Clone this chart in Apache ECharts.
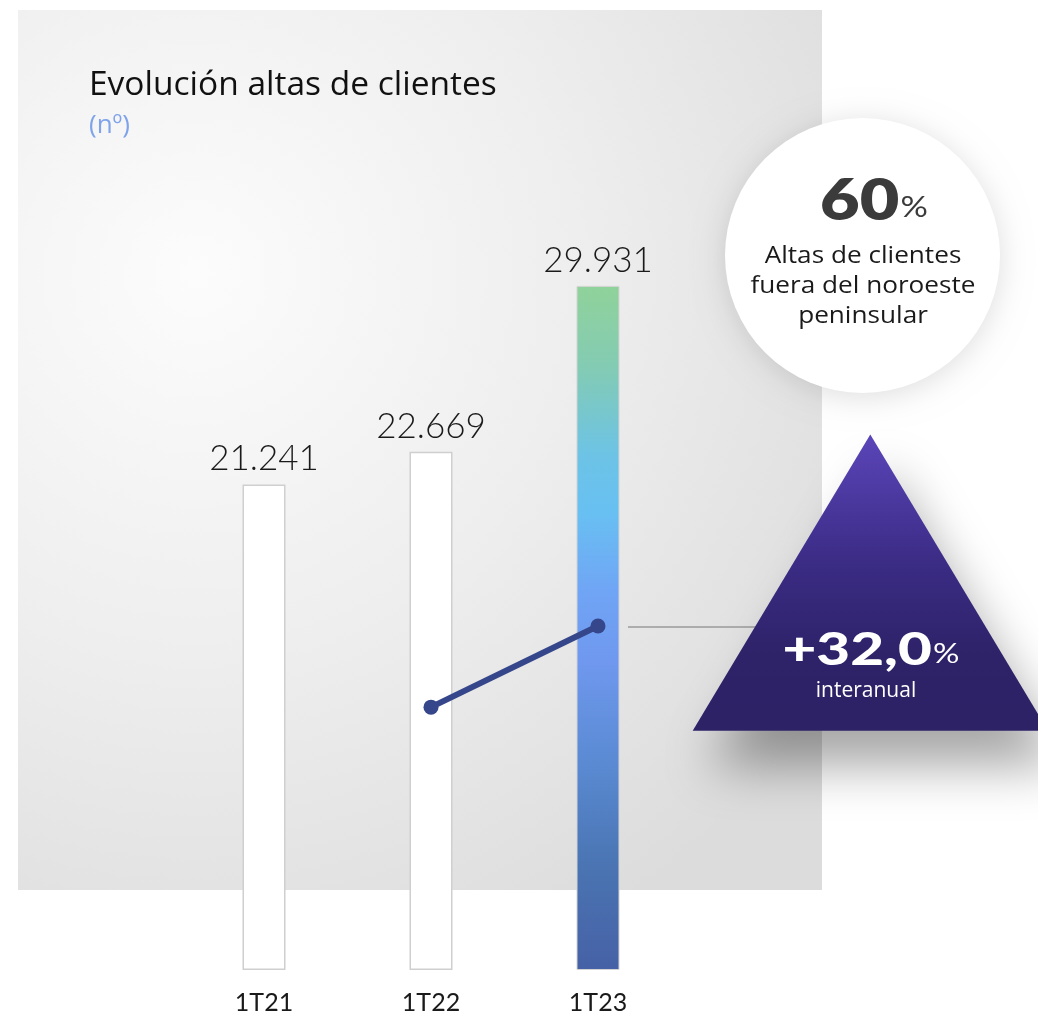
<!DOCTYPE html>
<html>
<head>
<meta charset="utf-8">
<title>Evolución altas de clientes</title>
<script src="https://cdn.jsdelivr.net/npm/echarts@6/dist/echarts.min.js"></script>
<style>
  html, body { margin: 0; padding: 0; background: #ffffff; }
  #chart { width: 1038px; height: 1015px; }
</style>
</head>
<body>
<div id="chart"></div>
<script>
// Quarterly new-customer figures
const categories = ['1T21', '1T22', '1T23'];
const altasValues = [21241, 22669, 29931];
// Year-on-year trend marker (1T22 -> 1T23)
const trendValues = [null, 11500, 15050];
// Highlight figures
const shareOutsideNW = '60';
const yoyGrowth = '+32,0';

const FONT = 'Lato, "Noto Sans", sans-serif';
const BODY = '"Open Sans", Lato, sans-serif';

function fmtThousands(v) {
  return String(v).replace(/\B(?=(\d{3})+(?!\d))/g, '.');
}

const plainBar = {
  color: '#ffffff',
  borderColor: '#cfcfcf',
  borderWidth: 1.5
};
const highlightBar = {
  color: {
    type: 'linear', x: 0, y: 0, x2: 0, y2: 1,
    colorStops: [
      { offset: 0.00, color: '#90d29a' },
      { offset: 0.12, color: '#83cbb4' },
      { offset: 0.25, color: '#6cc3e6' },
      { offset: 0.33, color: '#68c0f2' },
      { offset: 0.45, color: '#70a4f5' },
      { offset: 0.55, color: '#6f98ee' },
      { offset: 0.70, color: '#5a8ad2' },
      { offset: 0.85, color: '#4a74b2' },
      { offset: 1.00, color: '#4661a6' }
    ]
  },
  borderColor: '#d4d4d4',
  borderWidth: 1
};

const chart = echarts.init(document.getElementById('chart'), null, { renderer: 'canvas' });

chart.setOption({
  backgroundColor: '#ffffff',
  animation: false,
  grid: { left: 180.5, width: 501, top: 284.3, bottom: 44, containLabel: false },
  xAxis: {
    type: 'category',
    data: categories,
    axisLine: { show: false },
    axisTick: { show: false },
    axisLabel: {
      margin: 20,
      fontFamily: FONT,
      fontSize: 25,
      color: '#1a1a1a'
    }
  },
  yAxis: {
    type: 'value',
    min: 0,
    max: 30000,
    show: false,
    splitLine: { show: false }
  },
  graphic: [
    // panel behind the plot
    {
      type: 'rect', z: -10, silent: true,
      shape: { x: 18, y: 10, width: 804, height: 880 },
      style: {
        fill: {
          type: 'radial', x: 0.22, y: 0.3, r: 0.95,
          colorStops: [
            { offset: 0, color: '#fcfcfc' },
            { offset: 0.5, color: '#eeeeee' },
            { offset: 1, color: '#dcdcdc' }
          ]
        }
      }
    },
    {
      type: 'text', left: 89, top: 68, z: 5,
      style: { text: 'Evolución altas de clientes', font: '400 33.5px ' + BODY, fill: '#111111' }
    },
    {
      type: 'text', left: 89, top: 113, z: 5,
      style: { text: '(nº)', font: '400 26px ' + BODY, fill: '#7ea3ea' }
    },
    // connector to the growth badge
    {
      type: 'line', z: 4, silent: true,
      shape: { x1: 628, y1: 627, x2: 790, y2: 627 },
      style: { stroke: '#9a9a9a', lineWidth: 1.5 }
    },
    // growth badge
    {
      type: 'polygon', z: 6, silent: true,
      shape: { points: [[870.3, 434.5], [692.7, 730.7], [1048, 730.7]] },
      style: {
        fill: {
          type: 'linear', x: 0, y: 0, x2: 0, y2: 1,
          colorStops: [
            { offset: 0, color: '#5b45b9' },
            { offset: 0.45, color: '#3a2b83' },
            { offset: 0.75, color: '#2e2268' },
            { offset: 1, color: '#2d2266' }
          ]
        },
        shadowColor: 'rgba(0,0,0,0.35)',
        shadowBlur: 50,
        shadowOffsetX: 15,
        shadowOffsetY: 35
      }
    },
    {
      type: 'text', z: 7, x: 871, y: 673, scaleX: 1.27, silent: true,
      style: {
        text: '{b|' + yoyGrowth + '}{p|%}',
        align: 'center', verticalAlign: 'bottom',
        rich: {
          b: { font: '900 46px ' + FONT, fill: '#ffffff', lineHeight: 46 },
          p: { font: '400 26px ' + FONT, fill: '#ffffff', lineHeight: 46, padding: [10, 0, 0, 1] }
        }
      }
    },
    {
      type: 'text', z: 7, x: 866, y: 691, silent: true,
      style: { text: 'interanual', font: '400 21px ' + BODY, fill: '#ffffff', align: 'center', verticalAlign: 'middle' }
    },
    // share badge
    {
      type: 'circle', z: 6, silent: true,
      shape: { cx: 862.5, cy: 255.5, r: 137.5 },
      style: {
        fill: '#ffffff',
        shadowColor: 'rgba(0,0,0,0.13)',
        shadowBlur: 30,
        shadowOffsetX: 0,
        shadowOffsetY: 4
      }
    },
    {
      type: 'text', z: 7, x: 874, y: 230, scaleX: 1.22, silent: true,
      style: {
        text: '{b|' + shareOutsideNW + '}{p|%}',
        align: 'center', verticalAlign: 'bottom',
        rich: {
          b: { font: '800 56px ' + FONT, fill: '#3b3b3b', lineHeight: 56 },
          p: { font: '400 28px ' + FONT, fill: '#3b3b3b', lineHeight: 56, padding: [12, 0, 0, 1] }
        }
      }
    },
    {
      type: 'text', z: 7, x: 863, y: 286, scaleX: 1.09, silent: true,
      style: {
        text: 'Altas de clientes\nfuera del noroeste\npeninsular',
        font: '400 24px ' + BODY, fill: '#1a1a1a',
        lineHeight: 30, align: 'center', verticalAlign: 'middle'
      }
    }
  ],
  series: [
    {
      name: 'Altas de clientes',
      type: 'bar',
      barWidth: 43,
      z: 2,
      data: altasValues.map((v, i) => ({
        value: v,
        itemStyle: i === altasValues.length - 1 ? highlightBar : plainBar
      })),
      label: {
        show: true,
        position: 'top',
        distance: 8,
        fontFamily: FONT,
        fontWeight: 300,
        fontSize: 35,
        color: '#1a1a1a',
        formatter: p => fmtThousands(p.value)
      }
    },
    {
      name: 'Tendencia',
      type: 'line',
      z: 3,
      data: trendValues,
      symbol: 'circle',
      symbolSize: 15,
      connectNulls: false,
      lineStyle: { color: '#36468a', width: 6 },
      itemStyle: { color: '#36468a' }
    }
  ]
});
</script>
</body>
</html>
